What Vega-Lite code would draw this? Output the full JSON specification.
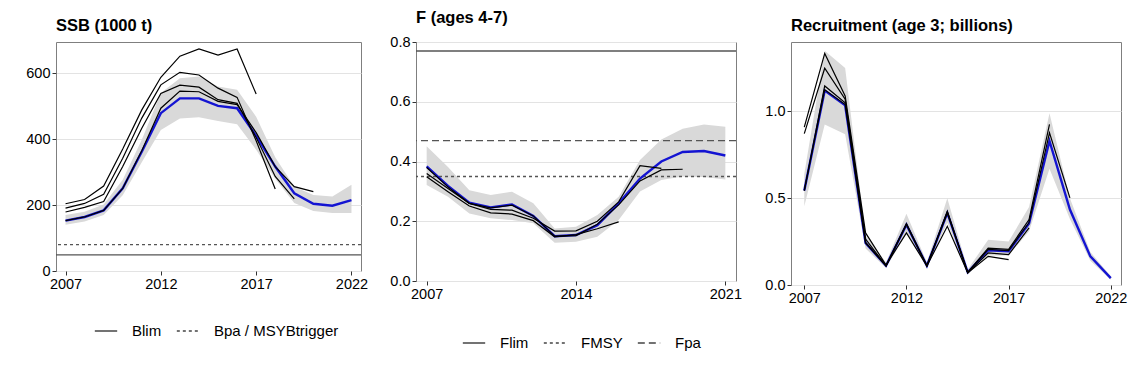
{
  "$schema": "https://vega.github.io/schema/vega-lite/v6.json",
  "background": "white",
  "padding": {"left": 25, "top": 9, "right": 5, "bottom": 5},
  "config": {
    "font": "Liberation Sans",
    "view": {"stroke": "#7f7f7f", "strokeWidth": 1},
    "axis": {"domain": false, "tickColor": "#333333", "tickSize": 4, "labelFontSize": 14.5, "labelColor": "#000000", "labelPadding": 2, "title": null, "gridColor": "#e3e3e3", "labelFont": "Liberation Sans"},
    "axisX": {"grid": false, "labelFlush": false},
    "axisY": {"grid": true},
    "title": {"anchor": "start", "frame": "group", "fontSize": 16.5, "fontWeight": "bold", "offset": 8, "color": "#000000", "font": "Liberation Sans"},
    "legend": {"title": null, "direction": "horizontal", "orient": "none", "symbolType": "stroke", "symbolSize": 500, "symbolStrokeColor": "#444444", "symbolStrokeWidth": 1.5, "labelFontSize": 15, "labelColor": "#000000", "labelOffset": 14, "columnPadding": 11, "labelFont": "Liberation Sans"}
  },
  "datasets": {
    "ssb_cur": [
      {"year": 2007, "value": 153, "low": 140, "high": 170},
      {"year": 2008, "value": 164, "low": 150, "high": 180},
      {"year": 2009, "value": 184, "low": 170, "high": 202},
      {"year": 2010, "value": 251, "low": 230, "high": 277},
      {"year": 2011, "value": 362, "low": 330, "high": 398},
      {"year": 2012, "value": 479, "low": 428, "high": 540},
      {"year": 2013, "value": 524, "low": 463, "high": 585},
      {"year": 2014, "value": 524, "low": 467, "high": 590},
      {"year": 2015, "value": 501, "low": 455, "high": 560},
      {"year": 2016, "value": 494, "low": 445, "high": 550},
      {"year": 2017, "value": 410, "low": 368, "high": 468},
      {"year": 2018, "value": 317, "low": 280, "high": 345},
      {"year": 2019, "value": 236, "low": 206, "high": 256},
      {"year": 2020, "value": 204, "low": 182, "high": 231},
      {"year": 2021, "value": 198, "low": 176, "high": 226},
      {"year": 2022, "value": 215, "low": 176, "high": 262}
    ],
    "ssb_retro": [
      {"run": "A", "year": 2007, "value": 204}, {"run": "A", "year": 2008, "value": 217}, {"run": "A", "year": 2009, "value": 258}, {"run": "A", "year": 2010, "value": 370}, {"run": "A", "year": 2011, "value": 489}, {"run": "A", "year": 2012, "value": 588}, {"run": "A", "year": 2013, "value": 652}, {"run": "A", "year": 2014, "value": 674}, {"run": "A", "year": 2015, "value": 655}, {"run": "A", "year": 2016, "value": 674}, {"run": "A", "year": 2017, "value": 537},
      {"run": "B", "year": 2007, "value": 191}, {"run": "B", "year": 2008, "value": 205}, {"run": "B", "year": 2009, "value": 233}, {"run": "B", "year": 2010, "value": 342}, {"run": "B", "year": 2011, "value": 464}, {"run": "B", "year": 2012, "value": 565}, {"run": "B", "year": 2013, "value": 603}, {"run": "B", "year": 2014, "value": 595}, {"run": "B", "year": 2015, "value": 555}, {"run": "B", "year": 2016, "value": 527}, {"run": "B", "year": 2017, "value": 395}, {"run": "B", "year": 2018, "value": 249},
      {"run": "C", "year": 2007, "value": 179}, {"run": "C", "year": 2008, "value": 193}, {"run": "C", "year": 2009, "value": 211}, {"run": "C", "year": 2010, "value": 317}, {"run": "C", "year": 2011, "value": 433}, {"run": "C", "year": 2012, "value": 539}, {"run": "C", "year": 2013, "value": 564}, {"run": "C", "year": 2014, "value": 558}, {"run": "C", "year": 2015, "value": 520}, {"run": "C", "year": 2016, "value": 509}, {"run": "C", "year": 2017, "value": 405}, {"run": "C", "year": 2018, "value": 287}, {"run": "C", "year": 2019, "value": 219},
      {"run": "D", "year": 2007, "value": 153}, {"run": "D", "year": 2008, "value": 164}, {"run": "D", "year": 2009, "value": 184}, {"run": "D", "year": 2010, "value": 251}, {"run": "D", "year": 2011, "value": 365}, {"run": "D", "year": 2012, "value": 494}, {"run": "D", "year": 2013, "value": 546}, {"run": "D", "year": 2014, "value": 544}, {"run": "D", "year": 2015, "value": 515}, {"run": "D", "year": 2016, "value": 505}, {"run": "D", "year": 2017, "value": 420}, {"run": "D", "year": 2018, "value": 317}, {"run": "D", "year": 2019, "value": 256}, {"run": "D", "year": 2020, "value": 241}
    ],
    "ssb_ref": [
      {"ref": "Blim", "value": 49},
      {"ref": "Bpa / MSYBtrigger", "value": 80}
    ],
    "f_cur": [
      {"year": 2007, "value": 0.384, "low": 0.321, "high": 0.451},
      {"year": 2008, "value": 0.318, "low": 0.282, "high": 0.382},
      {"year": 2009, "value": 0.262, "low": 0.226, "high": 0.304},
      {"year": 2010, "value": 0.246, "low": 0.21, "high": 0.288},
      {"year": 2011, "value": 0.256, "low": 0.204, "high": 0.299},
      {"year": 2012, "value": 0.218, "low": 0.193, "high": 0.26},
      {"year": 2013, "value": 0.15, "low": 0.128, "high": 0.176},
      {"year": 2014, "value": 0.154, "low": 0.131, "high": 0.182},
      {"year": 2015, "value": 0.187, "low": 0.148, "high": 0.221},
      {"year": 2016, "value": 0.26, "low": 0.204, "high": 0.282},
      {"year": 2017, "value": 0.343, "low": 0.3, "high": 0.405},
      {"year": 2018, "value": 0.4, "low": 0.338, "high": 0.474},
      {"year": 2019, "value": 0.432, "low": 0.35, "high": 0.51},
      {"year": 2020, "value": 0.435, "low": 0.348, "high": 0.524},
      {"year": 2021, "value": 0.42, "low": 0.34, "high": 0.516}
    ],
    "f_retro": [
      {"run": "A", "year": 2007, "value": 0.349}, {"run": "A", "year": 2008, "value": 0.299}, {"run": "A", "year": 2009, "value": 0.251}, {"run": "A", "year": 2010, "value": 0.228}, {"run": "A", "year": 2011, "value": 0.224}, {"run": "A", "year": 2012, "value": 0.202}, {"run": "A", "year": 2013, "value": 0.148}, {"run": "A", "year": 2014, "value": 0.155}, {"run": "A", "year": 2015, "value": 0.175}, {"run": "A", "year": 2016, "value": 0.198},
      {"run": "B", "year": 2007, "value": 0.36}, {"run": "B", "year": 2008, "value": 0.31}, {"run": "B", "year": 2009, "value": 0.26}, {"run": "B", "year": 2010, "value": 0.24}, {"run": "B", "year": 2011, "value": 0.237}, {"run": "B", "year": 2012, "value": 0.21}, {"run": "B", "year": 2013, "value": 0.167}, {"run": "B", "year": 2014, "value": 0.168}, {"run": "B", "year": 2015, "value": 0.2}, {"run": "B", "year": 2016, "value": 0.265}, {"run": "B", "year": 2017, "value": 0.386}, {"run": "B", "year": 2018, "value": 0.377},
      {"run": "C", "year": 2007, "value": 0.38}, {"run": "C", "year": 2008, "value": 0.315}, {"run": "C", "year": 2009, "value": 0.26}, {"run": "C", "year": 2010, "value": 0.245}, {"run": "C", "year": 2011, "value": 0.254}, {"run": "C", "year": 2012, "value": 0.218}, {"run": "C", "year": 2013, "value": 0.15}, {"run": "C", "year": 2014, "value": 0.152}, {"run": "C", "year": 2015, "value": 0.19}, {"run": "C", "year": 2016, "value": 0.255}, {"run": "C", "year": 2017, "value": 0.335}, {"run": "C", "year": 2018, "value": 0.372}, {"run": "C", "year": 2019, "value": 0.374}
    ],
    "f_ref": [
      {"ref": "Flim", "value": 0.77},
      {"ref": "FMSY", "value": 0.35},
      {"ref": "Fpa", "value": 0.47}
    ],
    "rec_cur": [
      {"year": 2007, "value": 0.544, "low": 0.454, "high": 0.64},
      {"year": 2008, "value": 1.12, "low": 0.925, "high": 1.35},
      {"year": 2009, "value": 1.035, "low": 0.868, "high": 1.25},
      {"year": 2010, "value": 0.242, "low": 0.21, "high": 0.285},
      {"year": 2011, "value": 0.111, "low": 0.098, "high": 0.13},
      {"year": 2012, "value": 0.348, "low": 0.3, "high": 0.41},
      {"year": 2013, "value": 0.111, "low": 0.098, "high": 0.13},
      {"year": 2014, "value": 0.415, "low": 0.36, "high": 0.5},
      {"year": 2015, "value": 0.073, "low": 0.062, "high": 0.09},
      {"year": 2016, "value": 0.2, "low": 0.17, "high": 0.26},
      {"year": 2017, "value": 0.195, "low": 0.17, "high": 0.25},
      {"year": 2018, "value": 0.355, "low": 0.31, "high": 0.45},
      {"year": 2019, "value": 0.83, "low": 0.67, "high": 0.99},
      {"year": 2020, "value": 0.435, "low": 0.38, "high": 0.5},
      {"year": 2021, "value": 0.165, "low": 0.14, "high": 0.19},
      {"year": 2022, "value": 0.04, "low": 0.03, "high": 0.05}
    ],
    "rec_retro": [
      {"run": "A", "year": 2007, "value": 0.91}, {"run": "A", "year": 2008, "value": 1.334}, {"run": "A", "year": 2009, "value": 1.089}, {"run": "A", "year": 2010, "value": 0.3}, {"run": "A", "year": 2011, "value": 0.115}, {"run": "A", "year": 2012, "value": 0.3}, {"run": "A", "year": 2013, "value": 0.11}, {"run": "A", "year": 2014, "value": 0.338}, {"run": "A", "year": 2015, "value": 0.07}, {"run": "A", "year": 2016, "value": 0.165}, {"run": "A", "year": 2017, "value": 0.146},
      {"run": "B", "year": 2007, "value": 0.872}, {"run": "B", "year": 2008, "value": 1.249}, {"run": "B", "year": 2009, "value": 1.07}, {"run": "B", "year": 2010, "value": 0.265}, {"run": "B", "year": 2011, "value": 0.11}, {"run": "B", "year": 2012, "value": 0.354}, {"run": "B", "year": 2013, "value": 0.11}, {"run": "B", "year": 2014, "value": 0.425}, {"run": "B", "year": 2015, "value": 0.07}, {"run": "B", "year": 2016, "value": 0.185}, {"run": "B", "year": 2017, "value": 0.175}, {"run": "B", "year": 2018, "value": 0.329},
      {"run": "C", "year": 2007, "value": 0.544}, {"run": "C", "year": 2008, "value": 1.147}, {"run": "C", "year": 2009, "value": 1.05}, {"run": "C", "year": 2010, "value": 0.245}, {"run": "C", "year": 2011, "value": 0.11}, {"run": "C", "year": 2012, "value": 0.35}, {"run": "C", "year": 2013, "value": 0.11}, {"run": "C", "year": 2014, "value": 0.42}, {"run": "C", "year": 2015, "value": 0.072}, {"run": "C", "year": 2016, "value": 0.213}, {"run": "C", "year": 2017, "value": 0.205}, {"run": "C", "year": 2018, "value": 0.377}, {"run": "C", "year": 2019, "value": 0.925},
      {"run": "D", "year": 2007, "value": 0.544}, {"run": "D", "year": 2008, "value": 1.125}, {"run": "D", "year": 2009, "value": 1.04}, {"run": "D", "year": 2010, "value": 0.242}, {"run": "D", "year": 2011, "value": 0.111}, {"run": "D", "year": 2012, "value": 0.348}, {"run": "D", "year": 2013, "value": 0.111}, {"run": "D", "year": 2014, "value": 0.415}, {"run": "D", "year": 2015, "value": 0.073}, {"run": "D", "year": 2016, "value": 0.205}, {"run": "D", "year": 2017, "value": 0.198}, {"run": "D", "year": 2018, "value": 0.36}, {"run": "D", "year": 2019, "value": 0.877}, {"run": "D", "year": 2020, "value": 0.502}
    ]
  },
  "spacing": 55,
  "bounds": "flush",
  "resolve": {
    "scale": {"x": "independent", "y": "independent", "strokeDash": "independent"},
    "legend": {"strokeDash": "independent"}
  },
  "hconcat": [
    {
      "title": "SSB (1000 t)",
      "width": 305,
      "height": 229,
      "layer": [
        {
          "data": {"name": "ssb_cur"},
          "mark": {"type": "area", "color": "#d9d9d9"},
          "encoding": {
            "x": {"field": "year", "type": "quantitative", "scale": {"domain": [2006.5, 2022.5], "nice": false, "zero": false}, "axis": {"values": [2007, 2012, 2017, 2022], "format": "d"}},
            "y": {"field": "low", "type": "quantitative", "scale": {"domain": [0, 695], "nice": false}, "axis": {"values": [0, 200, 400, 600]}},
            "y2": {"field": "high"}
          }
        },
        {
          "data": {"name": "ssb_ref"},
          "mark": {"type": "rule", "color": "#555555", "strokeWidth": 1.4},
          "encoding": {
            "y": {"field": "value", "type": "quantitative"},
            "strokeDash": {"field": "ref", "type": "nominal", "scale": {"domain": ["Blim", "Bpa / MSYBtrigger"], "range": [[1, 0], [3, 3]]}, "legend": {"legendX": 38, "legendY": 277}}
          }
        },
        {
          "data": {"name": "ssb_cur"},
          "mark": {"type": "line", "color": "#1414d2", "strokeWidth": 2.4},
          "encoding": {
            "x": {"field": "year", "type": "quantitative"},
            "y": {"field": "value", "type": "quantitative"}
          }
        },
        {
          "data": {"name": "ssb_retro"},
          "mark": {"type": "line", "color": "#000000", "strokeWidth": 1.2},
          "encoding": {
            "x": {"field": "year", "type": "quantitative"},
            "y": {"field": "value", "type": "quantitative"},
            "detail": {"field": "run", "type": "nominal"}
          }
        }
      ]
    },
    {
      "title": "F (ages 4-7)",
      "width": 320,
      "height": 239,
      "layer": [
        {
          "data": {"name": "f_cur"},
          "mark": {"type": "area", "color": "#d9d9d9"},
          "encoding": {
            "x": {"field": "year", "type": "quantitative", "scale": {"domain": [2006.5, 2021.5], "nice": false, "zero": false}, "axis": {"values": [2007, 2014, 2021], "format": "d"}},
            "y": {"field": "low", "type": "quantitative", "scale": {"domain": [0, 0.8], "nice": false}, "axis": {"values": [0, 0.2, 0.4, 0.6, 0.8], "format": ".1f"}},
            "y2": {"field": "high"}
          }
        },
        {
          "data": {"name": "f_ref"},
          "mark": {"type": "rule", "color": "#555555", "strokeWidth": 1.4},
          "encoding": {
            "y": {"field": "value", "type": "quantitative"},
            "strokeDash": {"field": "ref", "type": "nominal", "scale": {"domain": ["Flim", "FMSY", "Fpa"], "range": [[1, 0], [3, 3], [7, 4]]}, "legend": {"legendX": 46, "legendY": 289}}
          }
        },
        {
          "data": {"name": "f_cur"},
          "mark": {"type": "line", "color": "#1414d2", "strokeWidth": 2.4},
          "encoding": {
            "x": {"field": "year", "type": "quantitative"},
            "y": {"field": "value", "type": "quantitative"}
          }
        },
        {
          "data": {"name": "f_retro"},
          "mark": {"type": "line", "color": "#000000", "strokeWidth": 1.2},
          "encoding": {
            "x": {"field": "year", "type": "quantitative"},
            "y": {"field": "value", "type": "quantitative"},
            "detail": {"field": "run", "type": "nominal"}
          }
        }
      ]
    },
    {
      "title": "Recruitment (age 3; billions)",
      "width": 330,
      "height": 243,
      "layer": [
        {
          "data": {"name": "rec_cur"},
          "mark": {"type": "area", "color": "#d9d9d9"},
          "encoding": {
            "x": {"field": "year", "type": "quantitative", "scale": {"domain": [2006.35, 2022.5], "nice": false, "zero": false}, "axis": {"values": [2007, 2012, 2017, 2022], "format": "d"}},
            "y": {"field": "low", "type": "quantitative", "scale": {"domain": [0, 1.4], "nice": false}, "axis": {"values": [0, 0.5, 1.0], "format": ".1f"}},
            "y2": {"field": "high"}
          }
        },
        {
          "data": {"name": "rec_cur"},
          "mark": {"type": "line", "color": "#1414d2", "strokeWidth": 2.4},
          "encoding": {
            "x": {"field": "year", "type": "quantitative"},
            "y": {"field": "value", "type": "quantitative"}
          }
        },
        {
          "data": {"name": "rec_retro"},
          "mark": {"type": "line", "color": "#000000", "strokeWidth": 1.2},
          "encoding": {
            "x": {"field": "year", "type": "quantitative"},
            "y": {"field": "value", "type": "quantitative"},
            "detail": {"field": "run", "type": "nominal"}
          }
        }
      ]
    }
  ]
}
